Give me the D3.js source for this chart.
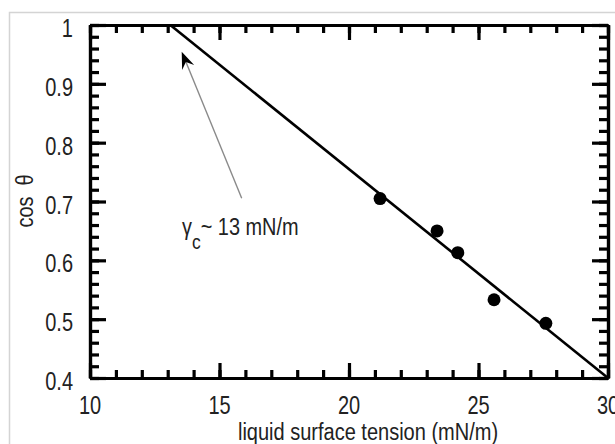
<!DOCTYPE html>
<html lang="en">
<head>
    <meta charset="UTF-8">
    <title>cos theta vs liquid surface tension</title>
    <script src="https://d3js.org/d3.v7.min.js"></script>
    <style>
        body { margin: 0; background: #fff; }
        text { font-family: "Liberation Sans", Arial, sans-serif; fill: #222; }
        .axis path, .axis line { stroke: #000; stroke-width: 3.2; }
    </style>
</head>
<body>
    <div id="chart"></div>

    <script>
        // data
        var surfaceTension = [21.2, 23.4, 24.2, 25.6, 27.6];
        var cosTheta = [0.705, 0.650, 0.613, 0.533, 0.493];
        var fitX = [13.1, 30];
        var fitY = [1, 0.4];
        var xTicks = [10, 15, 20, 25, 30];
        var yTicks = [0.4, 0.5, 0.6, 0.7, 0.8, 0.9, 1];

        var margin = { top: 25, right: 7, bottom: 66, left: 90 };
        var width = 615 - margin.left - margin.right;
        var height = 444 - margin.top - margin.bottom;

        var root = d3.select("#chart").append("svg")
            .attr("width", 615)
            .attr("height", 444);

        // light grey frame round the figure
        root.append("rect")
            .attr("x", 9.5).attr("y", 12.5)
            .attr("width", 640).attr("height", 450)
            .attr("fill", "none")
            .attr("stroke", "#d4d4d4")
            .attr("stroke-width", 1.5);

        var svg = root.append("g")
            .attr("transform", "translate(" + margin.left + "," + margin.top + ")");

        var x = d3.scaleLinear().domain([10, 30]).range([0, width]);
        var y = d3.scaleLinear().domain([0.4, 1]).range([height, 0]);

        // text in the picture is tall and narrow, so squeeze it sideways
        function label(g, px, py, str, anchor, size, sx) {
            return g.append("text")
                .attr("transform", "translate(" + px + "," + py + ") scale(" + (sx || 0.8) + ",1)")
                .attr("text-anchor", anchor)
                .style("font-size", (size || 25) + "px")
                .text(str);
        }

        // inward ticks on all four sides, minor then major
        var xMinor = d3.range(10, 30.5, 1);
        var yMinor = d3.range(0.4, 1.01, 0.02);

        svg.append("g").attr("class", "axis")
            .attr("transform", "translate(0," + height + ")")
            .call(d3.axisBottom(x).tickValues(xMinor).tickSizeInner(-8).tickSizeOuter(0).tickFormat(""));
        svg.append("g").attr("class", "axis")
            .attr("transform", "translate(0," + height + ")")
            .call(d3.axisBottom(x).tickValues(xTicks).tickSizeInner(-15).tickSizeOuter(0).tickFormat(""));
        svg.append("g").attr("class", "axis")
            .call(d3.axisTop(x).tickValues(xMinor).tickSizeInner(-8).tickSizeOuter(0).tickFormat(""));
        svg.append("g").attr("class", "axis")
            .call(d3.axisTop(x).tickValues(xTicks).tickSizeInner(-15).tickSizeOuter(0).tickFormat(""));

        svg.append("g").attr("class", "axis")
            .call(d3.axisLeft(y).tickValues(yMinor).tickSizeInner(-9).tickSizeOuter(0).tickFormat(""));
        svg.append("g").attr("class", "axis")
            .call(d3.axisLeft(y).tickValues(yTicks).tickSizeInner(-16).tickSizeOuter(0).tickFormat(""));
        svg.append("g").attr("class", "axis")
            .attr("transform", "translate(" + width + ",0)")
            .call(d3.axisRight(y).tickValues(yMinor).tickSizeInner(-9).tickSizeOuter(0).tickFormat(""));
        svg.append("g").attr("class", "axis")
            .attr("transform", "translate(" + width + ",0)")
            .call(d3.axisRight(y).tickValues(yTicks).tickSizeInner(-16).tickSizeOuter(0).tickFormat(""));

        // tick labels
        xTicks.forEach(function(v) {
            label(svg, x(v), height + 35.5, String(v), "middle");
        });
        yTicks.forEach(function(v) {
            label(svg, -17, y(v) + 12, String(+v.toFixed(1)), "end");
        });

        // axis titles
        label(svg, 368 - margin.left, 440 - margin.top, "liquid surface tension (mN/m)", "middle", 23, 0.87);
        svg.append("text")
            .attr("transform", "translate(" + (33 - margin.left) + "," + (201 - margin.top) + ") rotate(-90) scale(0.83,1)")
            .attr("text-anchor", "middle")
            .style("font-size", "24px")
            .text("cos \u00a0\u03b8");

        // fitted line
        svg.append("path")
            .datum(d3.zip(fitX, fitY))
            .attr("fill", "none")
            .attr("stroke", "#000")
            .attr("stroke-width", 2.6)
            .attr("d", d3.line().x(d => x(d[0])).y(d => y(d[1])));

        // measured points
        svg.selectAll("circle")
            .data(d3.zip(surfaceTension, cosTheta))
            .enter()
            .append("circle")
            .attr("cx", d => x(d[0]))
            .attr("cy", d => y(d[1]))
            .attr("r", 6.5)
            .attr("fill", "#000");

        // annotation arrow pointing at the critical tension
        var tail = [241.7 - margin.left, 198.3 - margin.top];
        var tip = [181.7 - margin.left, 51.7 - margin.top];
        var a = Math.atan2(tip[1] - tail[1], tip[0] - tail[0]);
        svg.append("line")
            .attr("x1", tail[0]).attr("y1", tail[1])
            .attr("x2", tip[0] - 8 * Math.cos(a))
            .attr("y2", tip[1] - 8 * Math.sin(a))
            .attr("stroke", "#8a8a8a")
            .attr("stroke-width", 1.4);
        svg.append("path")
            .attr("transform", "translate(" + tip[0] + "," + tip[1] + ") rotate(" + (a * 180 / Math.PI) + ")")
            .attr("d", "M0,0 L-17,-6.5 L-11,0 L-17,6.5 Z")
            .attr("fill", "#000");

        var note = svg.append("text")
            .attr("transform", "translate(" + (182 - margin.left) + "," + (235 - margin.top) + ") scale(0.83,1)")
            .style("font-size", "24px");
        note.append("tspan").text("\u03b3");
        note.append("tspan").attr("dy", 14).style("font-size", "21px").text("c");
        note.append("tspan").attr("dy", -14).text("~ 13 mN/m");
    </script>
</body>
</html>
